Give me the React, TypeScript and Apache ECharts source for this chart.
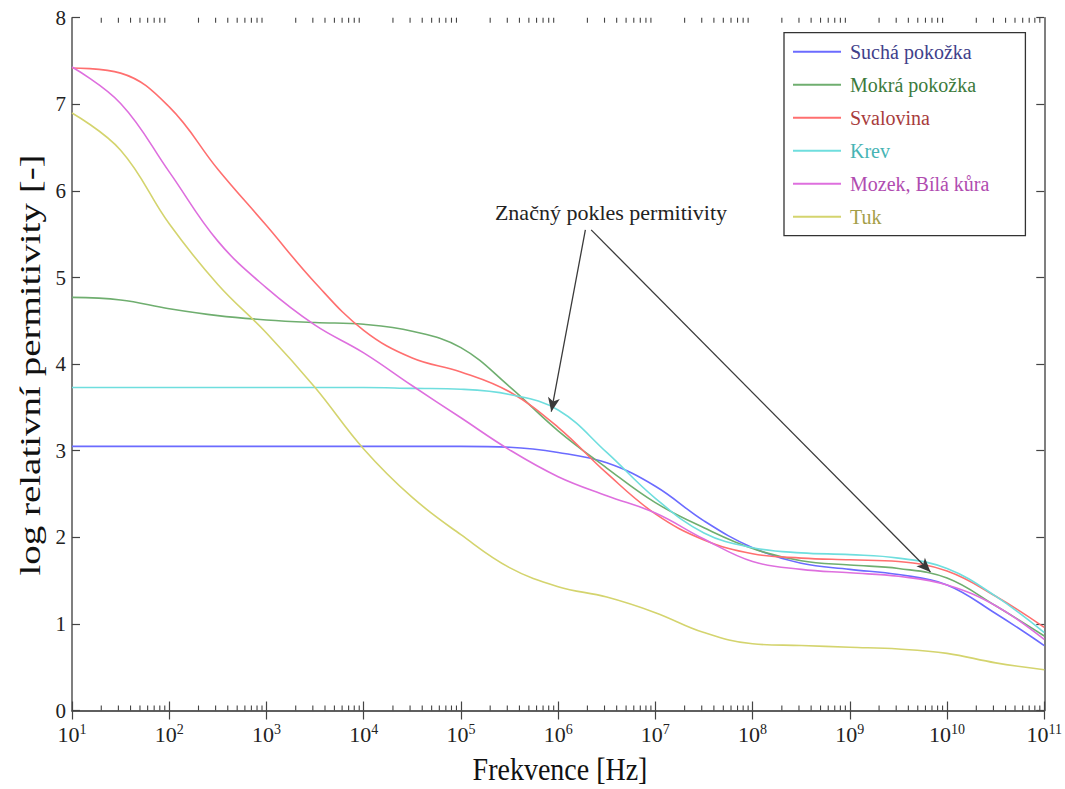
import React, { useEffect, useRef } from 'react';
import * as echarts from 'echarts';

const FONT = 'Liberation Serif';

// log10 of frequency [Hz]
const logFreq = [1, 1.5, 2, 2.5, 3, 3.5, 4, 4.5, 5, 5.5, 6, 6.5, 7, 7.5, 8, 8.5, 9, 9.5, 10, 10.5, 11];

const seriesNames = ['Suchá pokožka', 'Mokrá pokožka', 'Svalovina', 'Krev', 'Mozek, Bílá kůra', 'Tuk'];

const suchaPokozka = [3.05, 3.05, 3.05, 3.05, 3.05, 3.05, 3.05, 3.05, 3.05, 3.04, 2.98, 2.86, 2.59, 2.19, 1.88, 1.70, 1.63, 1.57, 1.45, 1.12, 0.75];
const mokraPokozka = [4.77, 4.74, 4.64, 4.56, 4.51, 4.48, 4.46, 4.38, 4.19, 3.74, 3.23, 2.80, 2.40, 2.11, 1.87, 1.73, 1.68, 1.64, 1.53, 1.21, 0.86];
const svalovina = [7.42, 7.36, 6.97, 6.25, 5.60, 4.94, 4.39, 4.07, 3.91, 3.68, 3.27, 2.74, 2.27, 1.97, 1.81, 1.76, 1.74, 1.72, 1.61, 1.32, 0.96];
const krev = [3.73, 3.73, 3.73, 3.73, 3.73, 3.73, 3.73, 3.72, 3.71, 3.65, 3.47, 2.98, 2.45, 2.05, 1.88, 1.82, 1.80, 1.76, 1.64, 1.32, 0.90];
const mozek = [7.43, 7.01, 6.22, 5.42, 4.88, 4.45, 4.13, 3.75, 3.38, 3.01, 2.70, 2.48, 2.28, 1.98, 1.72, 1.63, 1.59, 1.55, 1.45, 1.21, 0.82];
const tuk = [6.90, 6.47, 5.62, 4.92, 4.36, 3.73, 3.02, 2.46, 2.03, 1.65, 1.43, 1.31, 1.13, 0.90, 0.77, 0.75, 0.73, 0.71, 0.66, 0.55, 0.47];

const seriesValues = [suchaPokozka, mokraPokozka, svalovina, krev, mozek, tuk];
const lineColors = ['#6b6bff', '#6fae6f', '#ff6f6f', '#6fdede', '#de6fde', '#d4d46e'];
const legendTextColors = ['#40408a', '#3c7a3c', '#a83c3c', '#46b4b4', '#b04cb0', '#a49e48'];

const xDecades = [1, 2, 3, 4, 5, 6, 7, 8, 9, 10, 11];
const minorMultipliers = [2, 3, 4, 5, 6, 7, 8, 9];

const xAxisTitle = 'Frekvence [Hz]';
const yAxisTitle = 'log relativní permitivity [-]';
const annotationText = 'Značný pokles permitivity';
const arrow1 = [[6.28, 5.55], [5.93, 3.45]];
const arrow2 = [[6.34, 5.55], [9.83, 1.6]];

export default function App() {
  const ref = useRef<HTMLDivElement>(null);

  useEffect(() => {
    if (!ref.current) return;
    const chart = echarts.init(ref.current, null, { renderer: 'svg' });

    const minorTicks: number[][] = [];
    xDecades.slice(0, -1).forEach((d) => {
      minorMultipliers.forEach((m) => minorTicks.push([d + Math.log10(m), 0]));
    });

    const axisLineStyle = { color: '#555', width: 1.5 };
    const tickStyle = { color: '#444', width: 1.2 };

    const lineSeries = seriesNames.map((name, i) => ({
      name,
      type: 'line',
      data: logFreq.map((x, j) => [x, seriesValues[i][j]]),
      showSymbol: false,
      smooth: 0.4,
      lineStyle: { color: lineColors[i], width: 1.6 },
      itemStyle: { color: lineColors[i] },
      z: 3,
      ...(i === 0
        ? {
            markLine: {
              silent: true,
              symbol: ['none', 'arrow'],
              symbolSize: [9, 14],
              label: { show: false },
              lineStyle: { color: '#3a3a3a', width: 1.3, type: 'solid' },
              data: [
                [{ coord: arrow1[0] }, { coord: arrow1[1] }],
                [{ coord: arrow2[0] }, { coord: arrow2[1] }],
              ],
            },
          }
        : {}),
    }));

    const option: any = {
      animation: false,
      backgroundColor: '#fff',
      textStyle: { fontFamily: FONT },
      grid: { left: 72, right: 17.5, top: 17.7, bottom: 78.5, containLabel: false },
      legend: {
        orient: 'vertical',
        left: 784,
        top: 32.7,
        padding: [9, 36, 9, 9],
        itemGap: 13,
        itemWidth: 48,
        itemHeight: 2,
        icon: 'rect',
        backgroundColor: '#fff',
        borderColor: '#333',
        borderWidth: 1.3,
        textStyle: { fontFamily: FONT, fontSize: 20, lineHeight: 20, padding: [0, 0, 0, 4] },
        data: seriesNames.map((name, i) => ({ name, textStyle: { color: legendTextColors[i] } })),
      },
      xAxis: [
        {
          type: 'value',
          min: 1,
          max: 11,
          interval: 1,
          position: 'bottom',
          axisLine: { show: true, lineStyle: axisLineStyle },
          axisTick: { show: true, inside: true, length: 9, lineStyle: tickStyle },
          splitLine: { show: false },
          axisLabel: {
            margin: 12,
            formatter: (v: number) => `{b|10}{s|${v}}`,
            rich: {
              b: { fontFamily: FONT, fontSize: 22, color: '#222', lineHeight: 24 },
              s: { fontFamily: FONT, fontSize: 14, color: '#222', verticalAlign: 'top', lineHeight: 14 },
            },
          },
        },
        {
          type: 'value',
          min: 1,
          max: 11,
          interval: 1,
          position: 'top',
          axisLine: { show: true, lineStyle: axisLineStyle },
          axisTick: { show: true, inside: true, length: 9, lineStyle: tickStyle },
          axisLabel: { show: false },
          splitLine: { show: false },
        },
      ],
      yAxis: [
        {
          type: 'value',
          min: 0,
          max: 8,
          interval: 1,
          position: 'left',
          axisLine: { show: true, lineStyle: axisLineStyle },
          axisTick: { show: true, inside: true, length: 8, lineStyle: tickStyle },
          splitLine: { show: false },
          axisLabel: { margin: 6, fontFamily: FONT, fontSize: 21, color: '#222', lineHeight: 20 },
        },
        {
          type: 'value',
          min: 0,
          max: 8,
          interval: 1,
          position: 'right',
          axisLine: { show: true, lineStyle: axisLineStyle },
          axisTick: { show: true, inside: true, length: 8, lineStyle: tickStyle },
          axisLabel: { show: false },
          splitLine: { show: false },
        },
      ],
      graphic: [
        {
          type: 'text',
          x: 30,
          y: 365,
          rotation: Math.PI / 2,
          scaleX: 1.3,
          style: {
            text: yAxisTitle,
            fontFamily: FONT,
            fontSize: 30,
            fill: '#111',
            textAlign: 'center',
            textVerticalAlign: 'middle',
          },
        },
        {
          type: 'text',
          x: 560,
          y: 769,
          scaleY: 1.12,
          style: {
            text: xAxisTitle,
            fontFamily: FONT,
            fontSize: 28,
            fill: '#111',
            textAlign: 'center',
            textVerticalAlign: 'middle',
          },
        },
        {
          type: 'text',
          x: 611,
          y: 212,
          style: {
            text: annotationText,
            fontFamily: FONT,
            fontSize: 22,
            fill: '#222',
            textAlign: 'center',
            textVerticalAlign: 'middle',
          },
          z: 10,
        },
      ],
      series: [
        {
          name: 'minorTicks',
          type: 'custom',
          xAxisIndex: 0,
          yAxisIndex: 0,
          silent: true,
          clip: false,
          z: 1,
          data: minorTicks,
          renderItem: (params: any, api: any) => {
            const x = api.value(0);
            const b = api.coord([x, 0]);
            const t = api.coord([x, 8]);
            const style = { stroke: '#444', lineWidth: 1.1 };
            return {
              type: 'group',
              children: [
                { type: 'line', shape: { x1: b[0], y1: b[1], x2: b[0], y2: b[1] - 5 }, style },
                { type: 'line', shape: { x1: t[0], y1: t[1], x2: t[0], y2: t[1] + 5 }, style },
              ],
            };
          },
        },
        ...lineSeries,
      ],
    };

    chart.setOption(option);
    return () => chart.dispose();
  }, []);

  return (
    <div
      ref={ref}
      style={{ position: 'fixed', left: 0, top: 0, width: 1065, height: 789, background: '#fff' }}
    />
  );
}
